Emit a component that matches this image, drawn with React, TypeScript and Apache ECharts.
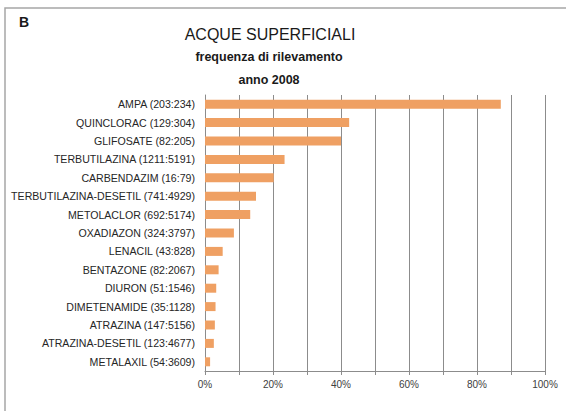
import React, { useEffect, useRef } from "react";
import * as echarts from "echarts";

const categories = [
  "AMPA (203:234)",
  "QUINCLORAC (129:304)",
  "GLIFOSATE (82:205)",
  "TERBUTILAZINA (1211:5191)",
  "CARBENDAZIM (16:79)",
  "TERBUTILAZINA-DESETIL (741:4929)",
  "METOLACLOR (692:5174)",
  "OXADIAZON (324:3797)",
  "LENACIL (43:828)",
  "BENTAZONE (82:2067)",
  "DIURON (51:1546)",
  "DIMETENAMIDE (35:1128)",
  "ATRAZINA (147:5156)",
  "ATRAZINA-DESETIL (123:4677)",
  "METALAXIL (54:3609)",
];

const values = [87.0, 42.4, 40.0, 23.4, 20.2, 15.0, 13.3, 8.5, 5.2, 4.0, 3.3, 3.1, 2.9, 2.6, 1.5];

const panelLabel = "B";
const titleMain = "ACQUE SUPERFICIALI";
const titleSub1 = "frequenza di rilevamento";
const titleSub2 = "anno 2008";

export default function App() {
  const ref = useRef<HTMLDivElement>(null);
  useEffect(() => {
    if (!ref.current) return;
    const chart = echarts.init(ref.current, null, { renderer: "svg" });
    const font = "'Liberation Sans', Arial, sans-serif";
    chart.setOption({
      animation: false,
      backgroundColor: "#ffffff",
      graphic: [
        {
          type: "rect",
          shape: { x: 5, y: 8, width: 700, height: 600 },
          style: { fill: "none", stroke: "#a6a6a6", lineWidth: 1.5 },
          silent: true,
        },
        {
          type: "text",
          x: 19,
          y: 15,
          style: { text: panelLabel, fontSize: 14, fontWeight: "bold", fill: "#1a1a1a", fontFamily: font },
        },
      ],
      title: [
        {
          text: titleMain,
          left: 265,
          top: 21,
          textAlign: "center",
          textStyle: { fontSize: 16, fontWeight: "normal", color: "#1a1a1a", fontFamily: font },
        },
        {
          text: titleSub1,
          left: 264,
          top: 45,
          textAlign: "center",
          textStyle: { fontSize: 12.5, fontWeight: "bold", color: "#1a1a1a", fontFamily: font },
        },
        {
          text: titleSub2,
          left: 264,
          top: 68,
          textAlign: "center",
          textStyle: { fontSize: 12.5, fontWeight: "bold", color: "#1a1a1a", fontFamily: font },
        },
      ],
      grid: { left: 205, right: 21, top: 95, bottom: 40, containLabel: false },
      xAxis: {
        type: "value",
        min: 0,
        max: 100,
        interval: 10,
        axisLine: { show: true, lineStyle: { color: "#8c8c8c", width: 1 } },
        axisTick: { show: true, length: 4, lineStyle: { color: "#8c8c8c" } },
        splitLine: { show: true, lineStyle: { color: "#8c8c8c", width: 1 } },
        axisLabel: {
          margin: 8,
          color: "#404040",
          fontSize: 10,
          fontFamily: font,
          formatter: (v: number) => (v % 20 === 0 ? v + "%" : ""),
        },
      },
      yAxis: {
        type: "category",
        data: categories,
        inverse: true,
        axisLine: { show: true, lineStyle: { color: "#8c8c8c", width: 1 } },
        axisTick: { show: false },
        axisLabel: { margin: 10, color: "#262626", fontSize: 10.6, fontFamily: font },
      },
      series: [
        {
          type: "bar",
          data: values,
          barWidth: 9,
          itemStyle: { color: "#EFA063" },
        },
      ],
    });
    return () => chart.dispose();
  }, []);
  return (
    <div
      ref={ref}
      style={{ position: "fixed", left: 0, top: 0, width: 566, height: 411, background: "#fff" }}
    />
  );
}
